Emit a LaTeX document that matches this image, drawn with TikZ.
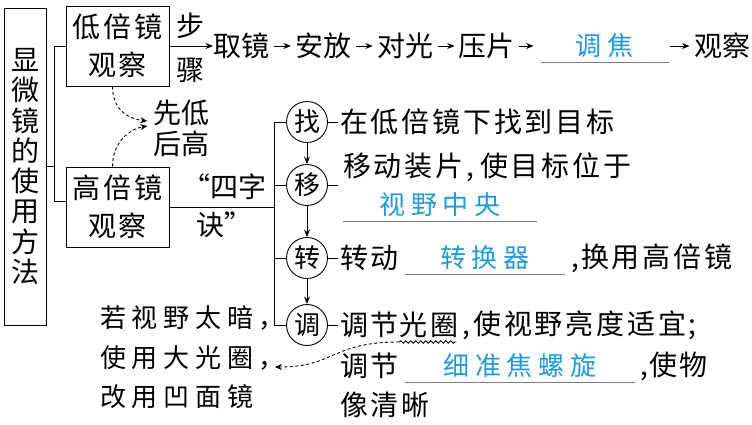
\documentclass[tikz,border=0pt]{standalone}
\usepackage{fontspec}
\setmainfont{Noto Sans CJK SC}
\newfontfamily\rowfont[LetterSpace=10]{Noto Sans CJK SC}
\newfontfamily\ansfont[LetterSpace=22]{Noto Sans CJK SC}
\usepackage{tikz}
\usetikzlibrary{positioning,arrows.meta,decorations.pathmorphing}
\definecolor{ansblue}{HTML}{1E9BD7}
\definecolor{ulgrey}{HTML}{7A7A7A}
\tikzset{
  txt/.style={inner sep=0pt, font=\fontsize{28pt}{30pt}\selectfont},
  rtxt/.style={inner sep=0pt, anchor=west, font=\rowfont\fontsize{28pt}{30pt}\selectfont},
  stxt/.style={inner sep=0pt, anchor=west, font=\ansfont\fontsize{26pt}{26pt}\selectfont},
  box/.style={draw, line width=1pt, minimum width=103pt, minimum height=80pt,
              inner sep=0pt, align=center, font=\rowfont\fontsize{28pt}{38pt}\selectfont},
  ring/.style={circle, draw, line width=0.9pt, minimum size=41pt, inner sep=0pt,
               font=\fontsize{26pt}{26pt}\selectfont},
  blank/.style={inner sep=0pt, minimum height=32pt, text=ansblue,
                font=\ansfont\fontsize{26pt}{26pt}\selectfont},
  uline/.style={draw=ulgrey, line width=0.9pt},
  link/.style={line width=0.9pt},
  arr/.style={link, -{Stealth[length=7.5pt, width=6pt]}},
  dasharr/.style={link, dash pattern=on 3pt off 2.5pt, -{Stealth[length=7pt, width=6pt]}}
}

\begin{document}
\begin{tikzpicture}[x=1pt, y=-1pt]
  \fill[white] (0,0) rectangle (752,424);

  \node[box, minimum width=42pt, minimum height=317pt,
        font=\fontsize{28pt}{30.3pt}\selectfont] (main) at (25,166.5)
        {显\\微\\镜\\的\\使\\用\\方\\法};
  \node[box] (low) at (117.5,46) {低倍镜\\观察};
  \node[box] (high) at (117.5,207) {高倍镜\\观察};
  \coordinate (br) at (54,166);
  \coordinate (hw) at ([yshift=6pt]high.west);
  \draw[link] (main.east) -- (main.east -| br);
  \draw[link] (low.west) -- (low.west -| br) -- (hw -| br) -- (hw);

  % top row
  \node[txt, align=center, font=\fontsize{28pt}{44pt}\selectfont] (bz) at (190,48) {步\\骤};
  \node[txt, anchor=west] (qj) at (213,46) {取镜};
  \node[txt, right=25.5pt of qj] (af) {安放};
  \node[txt, right=25.5pt of af] (dg) {对光};
  \node[txt, right=25.5pt of dg] (yp) {压片};
  \node[blank, minimum width=128pt, right=25.5pt of yp] (tj) {调焦};
  \node[txt, right=25.5pt of tj] (gc) {观察};
  \draw[arr] (low.east) -- (low.east -| qj.west);
  \draw[arr, shorten <=5pt, shorten >=4pt] (qj) -- (af);
  \draw[arr, shorten <=5pt, shorten >=4pt] (af) -- (dg);
  \draw[arr, shorten <=5pt, shorten >=4pt] (dg) -- (yp);
  \draw[arr, shorten <=3.5pt, shorten >=7pt] (yp) -- (tj);
  \draw[arr, shorten <=1pt, shorten >=5pt] (tj) -- (gc);
  \draw[uline] (tj.south west) -- (tj.south east);

  % low before high
  \node[txt, align=center, font=\fontsize{28pt}{31pt}\selectfont] (xdhg) at (181.5,128) {先低\\后高};
  \draw[dasharr] ([xshift=-5pt]low.south) .. controls +(0,24) and +(-18,-2) ..
    ([xshift=-6pt,yshift=7pt]xdhg.west);
  \draw[dasharr] ([xshift=-5pt]high.north) .. controls +(0,-24) and +(-18,3) ..
    ([xshift=-6pt,yshift=2pt]xdhg.west);

  % four-word rule
  \node[txt, align=center, font=\fontsize{28pt}{38pt}\selectfont] (szj) at (224,206) {“四字\\诀”};
  \coordinate (tk) at (274,207);
  \node[ring] (zhao) at (307,122) {找};
  \node[ring] (yi) at (307,185) {移};
  \node[ring] (zhuan) at (307,258) {转};
  \node[ring] (tiao) at (307,325) {调};
  \draw[link] (high.east) -- (tk);
  \draw[link] (zhao.west -| tk) -- (tiao.west -| tk);
  \foreach \n in {zhao,yi,zhuan,tiao}
    \draw[link] (\n.west -| tk) -- (\n.west);
  \draw[arr] (zhao) -- (yi);
  \draw[arr] (yi) -- (zhuan);
  \draw[arr] (zhuan) -- (tiao);

  % right side
  \node[rtxt] (r1) at (340,122) {在低倍镜下找到目标};
  \node[rtxt] (r2) at (343,167) {移动装片,\hspace{6pt}使目标位于};
  \node[blank, minimum width=194pt] (sy) at (440,205) {视野中央};
  \node[rtxt] (r3) at (340,258) {转动};
  \node[blank, minimum width=160pt] (zh) at (485,258) {转换器};
  \node[rtxt, right=6pt of zh] (r3b) {,\hspace{2pt}换用高倍镜};
  \node[rtxt] (r4) at (340,325) {调节};
  \node[rtxt, right=0pt of r4] (guang) {光圈};
  \node[rtxt, right=4pt of guang] (r4b) {,\hspace{3pt}使视野亮度适宜;};
  \node[rtxt] (r5) at (340,366) {调节};
  \node[blank, minimum width=230pt] (xz) at (520,366) {细准焦螺旋};
  \node[rtxt, right=5pt of xz] (r5b) {,\hspace{1pt}使物};
  \node[rtxt] (r6) at (340,405) {像清晰};
  \draw[uline] (sy.south west) -- (sy.south east);
  \draw[uline] (zh.south west) -- (zh.south east);
  \draw[uline] (xz.south west) -- (xz.south east);
  \draw[link, shorten >=2pt] (zhao.east) -- (r1.west);
  \draw[link, shorten >=2pt] (yi.east) -- (yi.east -| r1.west);
  \draw[link, shorten >=2pt] (zhuan.east) -- (r3.west);
  \draw[link, shorten >=2pt] (tiao.east) -- (r4.west);
  \draw[link, decorate, decoration={snake, amplitude=1.2pt, segment length=5pt}]
    ([yshift=-17pt]guang.west) -- ([yshift=-17pt,xshift=-2pt]guang.east);

  % left hint
  \node[stxt] (sh1) at (100,318) {若视野太暗，};
  \node[stxt] (sh2) at (100,358) {使用大光圈，};
  \node[stxt] (sh3) at (100,397) {改用凹面镜};
  \draw[dasharr] ([yshift=-17pt]guang.west) .. controls +(-68,0) and +(60,0) ..
    ([xshift=-10pt,yshift=-9pt]sh2.east);
\end{tikzpicture}
\end{document}
